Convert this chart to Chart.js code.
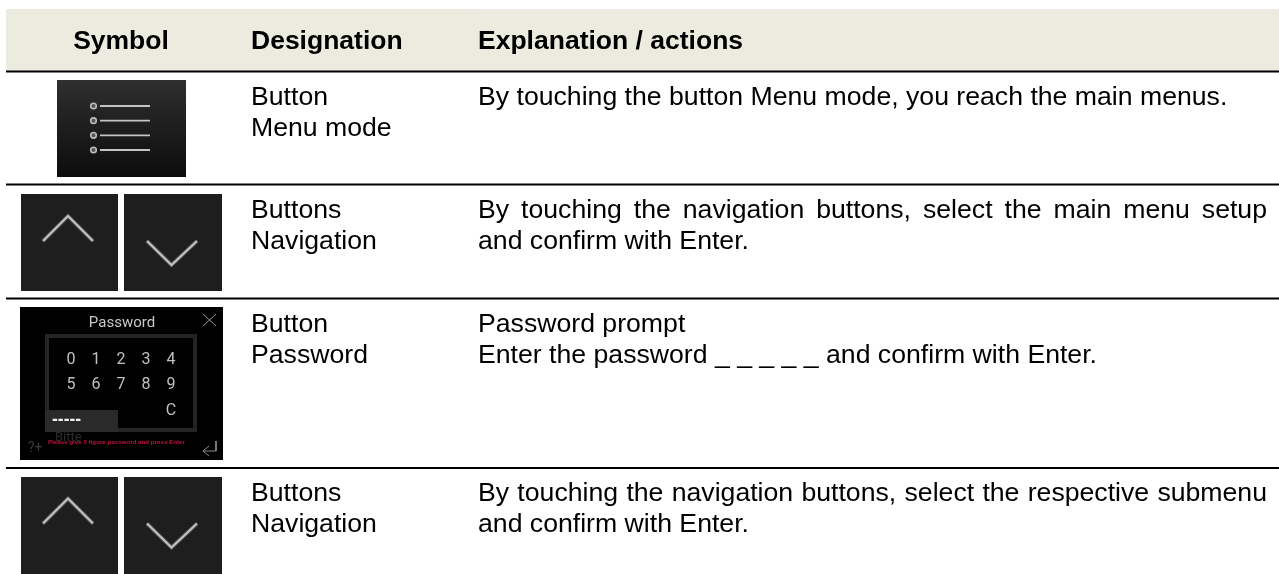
<!DOCTYPE html>
<html lang="en">
<head>
    <meta charset="UTF-8">
    <title>Symbol table</title>
    <script src="https://cdn.jsdelivr.net/npm/chart.js"></script>
    <style>
        html, body { margin: 0; padding: 0; background: #fff; overflow: hidden; }
        canvas { display: block; }
    </style>
</head>
<body>
    <canvas id="tableChart" width="1279" height="574"></canvas>

    <script>
        // table content
        const headers = ['Symbol', 'Designation', 'Explanation / actions'];
        const designations = [
            ['Button', 'Menu mode'],
            ['Buttons', 'Navigation'],
            ['Button', 'Password'],
            ['Buttons', 'Navigation']
        ];
        const explanations = [
            ['By touching the button Menu mode, you reach the main menus.'],
            ['By touching the navigation buttons, select the main menu setup', 'and confirm with Enter.'],
            ['Password prompt', 'Enter the password _ _ _ _ _ and confirm with Enter.'],
            ['By touching the navigation buttons, select the respective submenu', 'and confirm with Enter.']
        ];
        const justifiedRows = [1, 3];
        const digitRows = [['0', '1', '2', '3', '4'], ['5', '6', '7', '8', '9']];
        const passwordTitle = 'Password';
        const passwordHint = 'Please give 5 figure password and press Enter';

        // page geometry, 1 unit = 1 px
        const rowRules = [71.5, 184.5, 298.5, 468];
        const rowTops = [72, 185, 299, 468];

        const menuBullets = [106, 120.7, 135.3, 150];
        const chevronOffsets = [0, 282.5];

        function line(points, color, width) {
            return { type: 'line', data: points, borderColor: color, borderWidth: width, pointRadius: 0, fill: false, tension: 0 };
        }

        const datasets = [];
        rowRules.forEach(y => datasets.push(line([{ x: 6, y }, { x: 1279, y }], '#000', 2)));
        datasets.push(line([{ x: 478, y: 16 }, { x: 1270, y: 16 }], '#f1f0e8', 1));

        // menu icon
        menuBullets.forEach(y => {
            datasets.push(line([{ x: 100, y }, { x: 150, y }], '#c4c4c4', 1.8));
            datasets.push({
                type: 'scatter', data: [{ x: 93.5, y }], pointRadius: 2.8, pointBorderWidth: 1.6,
                pointBackgroundColor: '#555', pointBorderColor: '#bbb'
            });
        });

        // chevrons, a soft wide stroke under a thin one
        chevronOffsets.forEach(dy => {
            [[[43, 241], [68, 216], [93, 241]], [[147, 241], [171.5, 265], [197, 241]]].forEach(shape => {
                const pts = shape.map(p => ({ x: p[0], y: p[1] + dy }));
                datasets.push(line(pts, 'rgba(200,200,200,0.3)', 4));
                datasets.push(line(pts, '#c2c2c2', 2));
            });
        });

        // password panel strokes
        datasets.push(line([{ x: 203, y: 314 }, { x: 216, y: 326 }], '#999', 1));
        datasets.push(line([{ x: 216, y: 314 }, { x: 203, y: 326 }], '#999', 1));
        datasets.push(line([{ x: 216, y: 441 }, { x: 216, y: 451 }, { x: 203, y: 451 }], '#888', 1));
        datasets.push(line([{ x: 209, y: 446 }, { x: 203, y: 451 }, { x: 209, y: 456 }], '#888', 1));

        function box(chart, x0, y0, x1, y1, fill) {
            const { x, y } = chart.scales;
            const left = x.getPixelForValue(x0), top = y.getPixelForValue(y0);
            chart.ctx.fillStyle = typeof fill === 'function' ? fill(chart.ctx, top, y.getPixelForValue(y1)) : fill;
            chart.ctx.fillRect(left, top, x.getPixelForValue(x1) - left, y.getPixelForValue(y1) - top);
        }

        function menuGradient(ctx, top, bottom) {
            const g = ctx.createLinearGradient(0, top, 0, bottom);
            g.addColorStop(0, '#2f2f2f');
            g.addColorStop(1, '#0c0c0c');
            return g;
        }

        const panels = {
            id: 'panels',
            beforeDatasetsDraw(chart) {
                box(chart, 6, 9, 1279, 71, '#ecebdf');
                box(chart, 57, 80, 186, 177, menuGradient);
                chevronOffsets.forEach((dy, i) => {
                    const top = i ? 477 : 194;
                    const bottom = i ? 574 : 291;
                    box(chart, 21, top, 118, bottom, '#1e1e1e');
                    box(chart, 124, top, 222, bottom, '#1e1e1e');
                });
                box(chart, 20, 307, 223, 460, '#000');
                box(chart, 45, 334, 197, 432, '#242424');
                box(chart, 49, 338, 193, 428, '#000');
                box(chart, 45, 410, 118, 432, '#2a2a2a');
            }
        };

        function writeText(chart, str, x0, y0, font, color, align, spread) {
            const ctx = chart.ctx;
            ctx.font = font;
            ctx.fillStyle = color;
            ctx.textAlign = align || 'left';
            ctx.textBaseline = 'alphabetic';
            ctx.wordSpacing = '0px';
            if (spread) {
                const gaps = str.split(' ').length - 1;
                ctx.wordSpacing = ((spread - ctx.measureText(str).width) / gaps) + 'px';
            }
            ctx.fillText(str, chart.scales.x.getPixelForValue(x0), chart.scales.y.getPixelForValue(y0));
            ctx.wordSpacing = '0px';
        }

        const tableText = {
            id: 'tableText',
            afterDatasetsDraw(chart) {
                const bold = 'bold 26.5px "Liberation Sans"';
                const body = '26.65px "Liberation Sans"';
                writeText(chart, headers[0], 121, 49, bold, '#000', 'center');
                writeText(chart, headers[1], 251, 49, bold, '#000');
                writeText(chart, headers[2], 478, 49, bold, '#000');

                rowTops.forEach((top, r) => {
                    const base = r === 0 ? 105 : top + 33;
                    designations[r].forEach((s, i) => writeText(chart, s, 251, base + i * 31, body, '#000'));
                    explanations[r].forEach((s, i) => {
                        const spread = i === 0 && justifiedRows.includes(r) ? 789 : 0;
                        writeText(chart, s, 478, base + i * 31, body, '#000', 'left', spread);
                    });
                });

                // password panel content
                const din = 'Roboto';
                writeText(chart, passwordTitle, 122, 327, '15px ' + din, '#c8c8c8', 'center');
                digitRows.forEach((row, r) => row.forEach((d, i) => {
                    writeText(chart, d, 71 + i * 25, 364 + r * 25, '16px ' + din, '#c0c0c0', 'center');
                }));
                writeText(chart, 'C', 171, 415, '16px ' + din, '#c0c0c0', 'center');
                writeText(chart, '-----', 52, 425, 'bold 17.5px "Liberation Sans"', '#eee');
                writeText(chart, 'Bitte', 55, 441, '13px ' + din, '#2b2b2b');
                writeText(chart, '?+', 28, 452, '14px ' + din, '#3a3a3a');
                writeText(chart, passwordHint, 48, 443.5, 'bold 6.2px "Liberation Sans"', '#c4103f');
            }
        };

        new Chart(document.getElementById('tableChart'), {
            data: { datasets },
            plugins: [panels, tableText],
            options: {
                responsive: false,
                animation: false,
                layout: { padding: 0, autoPadding: false },
                plugins: { legend: { display: false }, tooltip: { enabled: false } },
                scales: {
                    x: { type: 'linear', min: 0, max: 1279, display: false },
                    y: { type: 'linear', min: 0, max: 574, reverse: true, display: false }
                }
            }
        });
    </script>
</body>
</html>
